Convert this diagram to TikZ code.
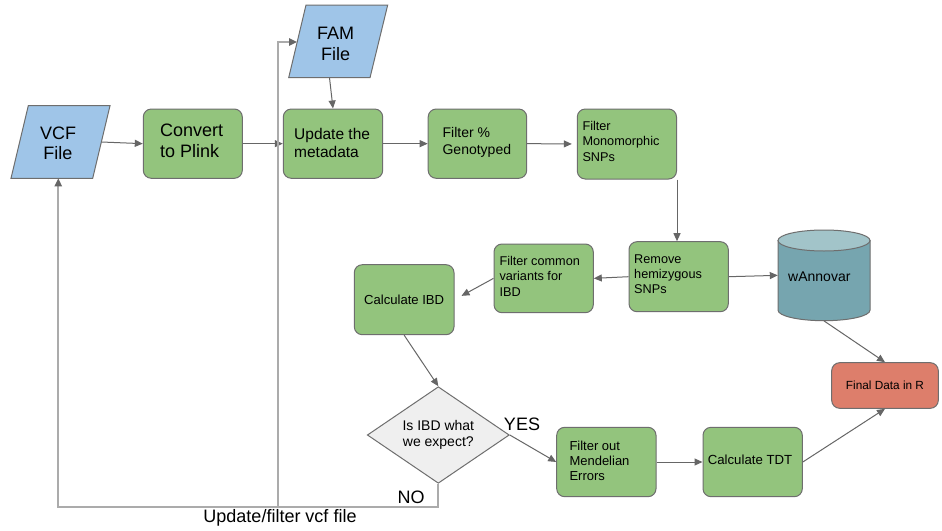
\documentclass[tikz,border=0pt]{standalone}
\usepackage{fontspec}
\setmainfont{Liberation Sans}
\usetikzlibrary{shapes.geometric,arrows.meta}
\definecolor{gfill}{HTML}{93C47D}
\definecolor{bfill}{HTML}{9FC5E8}
\definecolor{rfill}{HTML}{DD7E6B}
\definecolor{cbody}{HTML}{76A5AF}
\definecolor{ctop}{HTML}{A2C4C9}
\definecolor{dfill}{HTML}{EFEFEF}
\definecolor{bord}{HTML}{6E6E6E}
\definecolor{cline}{HTML}{666666}
\definecolor{fbline}{HTML}{ABABAB}
\begin{document}
\begin{tikzpicture}[x=1pt,y=-1pt,
  gbox/.style={draw=bord, line width=1pt, fill=gfill, rounded corners=8pt, inner sep=0pt},
  pgram/.style={draw=bord, line width=1pt, fill=bfill},
  txt/.style={inner sep=0pt, align=left, anchor=west, text=black},
  ctxt/.style={inner sep=0pt, align=center, text=black},
  arr/.style={draw=cline, line width=1pt, -{Triangle[length=8pt,width=7pt]}},
  fb/.style={draw=fbline, line width=2pt, -{Triangle[length=8pt,width=7pt,color=cline]}},
  lbl/.style={inner sep=0pt, text=black, font=\fontsize{18}{21}\selectfont}]
\useasboundingbox[fill=white] (0,0) rectangle (942,530);

% parallelograms
\draw[pgram] (28.3,105.7) -- (110,105.7) -- (92.7,178.3) -- (11,178.3) -- cycle;
\node[ctxt, font=\fontsize{18}{20.5}\selectfont] (vcf) at (58,143.5) {VCF\\File};
\coordinate (vcfR) at (101.5,142);
\coordinate (vcfB) at (58.3,178.3);

\draw[pgram] (306,5) -- (387.7,5) -- (370,77.7) -- (288.7,77.7) -- cycle;
\node[ctxt, font=\fontsize{18}{20.5}\selectfont] (fam) at (335.6,43.8) {FAM\\File};
\coordinate (famB) at (329.5,77.7);
\coordinate (famL) at (297.2,42);

% green boxes
\node[gbox, minimum width=99pt, minimum height=69.3pt] (conv) at (192.8,143.65) {};
\node[txt, font=\fontsize{18}{21}\selectfont] (convt) at (160,140.5) {Convert\\to Plink};

\node[gbox, minimum width=99.4pt, minimum height=69.3pt] (upd) at (333,143.65) {};
\node[txt, font=\fontsize{15.5}{18.5}\selectfont] (updt) at (294,142.8) {Update the\\metadata};

\node[gbox, minimum width=98.5pt, minimum height=69.3pt] (fgen) at (477.45,143.65) {};
\node[txt, font=\fontsize{14}{17.5}\selectfont] (fgent) at (442.4,142.2) {Filter \%\\Genotyped};

\node[gbox, minimum width=99.2pt, minimum height=70pt] (fmono) at (626.9,144) {};
\node[txt, font=\fontsize{12.7}{15.5}\selectfont] (fmonot) at (582.3,141.3) {Filter\\Monomorphic\\SNPs};

\node[gbox, minimum width=99.3pt, minimum height=70pt] (rem) at (678.65,276.7) {};
\node[txt, font=\fontsize{12.7}{15.2}\selectfont] (remt) at (634,274.1) {Remove\\hemizygous\\SNPs};

\node[gbox, minimum width=99.3pt, minimum height=68.7pt] (fcv) at (543.65,278.35) {};
\node[txt, font=\fontsize{12.7}{15.3}\selectfont] (fcvt) at (499.3,276.1) {Filter common\\variants for\\IBD};

\node[gbox, minimum width=99.7pt, minimum height=70pt, font=\fontsize{13.1}{15}\selectfont] (ibd) at (404.15,299.7) {Calculate IBD};

\node[gbox, minimum width=99.3pt, minimum height=69.4pt] (mend) at (606.35,462) {};
\node[txt, font=\fontsize{13}{15.2}\selectfont] (mendt) at (569.3,460.8) {Filter out\\Mendelian\\Errors};

\node[gbox, minimum width=99.3pt, minimum height=69.4pt] (tdt) at (752.65,462) {};
\node[ctxt, font=\fontsize{13.2}{15}\selectfont] (tdtt) at (750,459.3) {Calculate TDT};

% final
\node[draw=bord, line width=1pt, fill=rfill, rounded corners=8pt, inner sep=0pt,
      minimum width=106.6pt, minimum height=45.6pt, font=\fontsize{11.8}{14}\selectfont] (final) at (885,385.5) {Final Data in R};

% cylinder
\path[draw=bord, line width=1pt, fill=cbody] (778,240.5) -- (778,310.2)
  arc[start angle=180, end angle=360, x radius=46pt, y radius=10.5pt] -- (870,240.5) -- cycle;
\draw[draw=bord, line width=1pt, fill=ctop] (824,240.5) ellipse [x radius=46pt, y radius=10.5pt];
\node[inner sep=0pt, minimum width=92pt, minimum height=90.7pt] (wann) at (824,275.35) {};
\node[txt, font=\fontsize{14}{16}\selectfont] (wannt) at (788,276.7) {wAnnovar};

% diamond
\node[diamond, draw=bord, line width=1pt, fill=dfill, inner sep=0pt, aspect=1.47,
      minimum width=142pt, minimum height=96.6pt, align=center,
      font=\fontsize{14}{16.7}\selectfont] (dia) at (438.3,435) {Is IBD what\\we expect?};

% connectors
\draw[arr] (vcfR) -- (conv.west);
\draw[arr] (conv.east) -- (upd.west);
\draw[arr] (famB) -- (upd.north);
\draw[arr] (upd.east) -- (fgen.west);
\draw[arr, shorten >=5pt] (fgen.east) -- (fmono.west);
\draw[arr] (fmono.south east) -- (fmono.south east |- rem.north);
\draw[arr] (rem.west) -- (fcv.east);
\draw[arr] (rem.east) -- (wann.west);
\draw[arr, shorten >=8pt] (fcv.west) -- (ibd.east);
\draw[arr] (ibd.south) -- (dia.north);
\draw[arr] (dia.east) -- (mend.west);
\draw[arr] (mend.east) -- (tdt.west);
\draw[arr] (tdt.east) -- (final.south);
\draw[arr] (wann.south) -- (final.north);

% feedback lines
\coordinate (jn) at (278.3,506.7);
\draw[fb] (dia.south) |- (vcfB |- jn) -- (vcfB);
\draw[fb] (jn) |- (famL);

% labels
\node[lbl] (yes) at (522,424.3) {YES};
\node[lbl] (no) at (411,497.7) {NO};
\node[lbl] (upf) at (280,518) {Update/filter vcf file};
\end{tikzpicture}
\end{document}
